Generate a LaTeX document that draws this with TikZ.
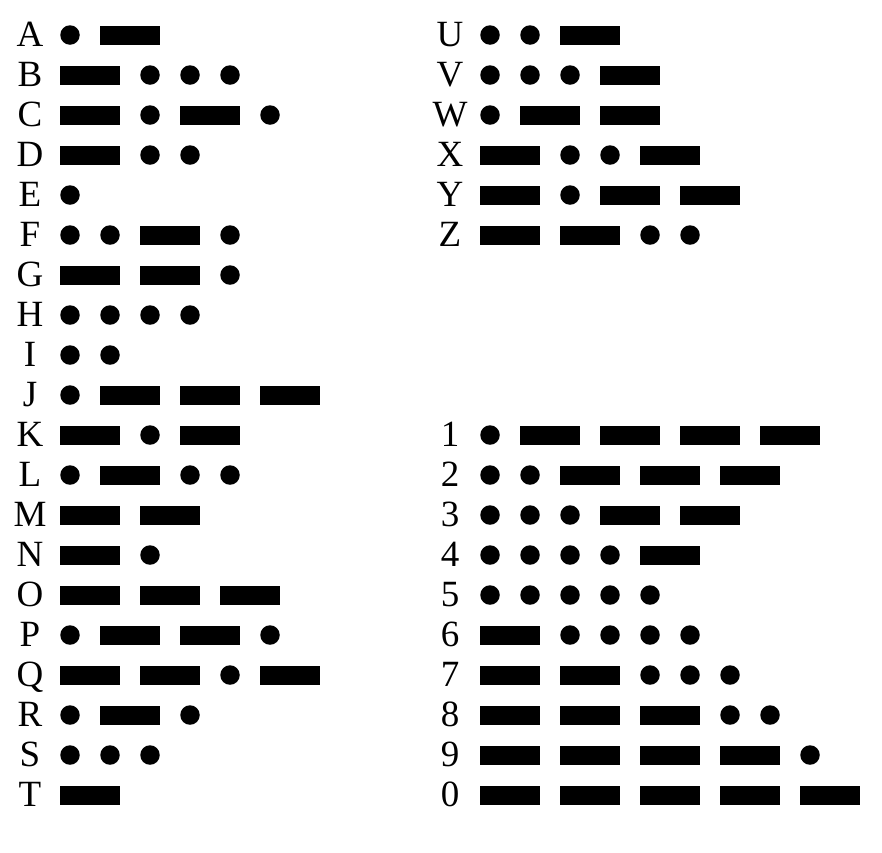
\documentclass[tikz,border=0pt]{standalone}
\usepackage{fontspec}
\setmainfont{Liberation Serif}

% one line of the chart: name, x of the letter, y of the line, code macro (0 = dot, 1 = dash)
\newcommand{\morserow}[4]{%
  \node[letter] (#1) at (#2,#3+11) {#1};
  \pgfmathsetmacro\curx{#2+30}
  \xdef\curx{\curx}
  \foreach \s [count=\i] in #4 {
    \ifnum\s=0
      \node[dotmark] (#1-\i) at (\curx+10,#3) {};
      \pgfmathsetmacro\nx{\curx+40}
    \else
      \node[dashmark] (#1-\i) at (\curx+30,#3) {};
      \pgfmathsetmacro\nx{\curx+80}
    \fi
    \xdef\curx{\nx}
  }
}

\begin{document}
\begin{tikzpicture}[x=1pt, y=-1pt,
    letter/.style={font=\fontsize{37}{37}\selectfont, anchor=base, inner sep=0pt},
    dotmark/.style={circle, fill=black, inner sep=0pt, minimum size=19.5pt},
    dashmark/.style={rectangle, fill=black, inner sep=0pt, minimum width=60pt, minimum height=19pt}
  ]
  \useasboundingbox (0,0) rectangle (882,852);

  % A to T
  \foreach \ch/\code [count=\r from 0] in {A/{0,1}, B/{1,0,0,0}, C/{1,0,1,0}, D/{1,0,0}, E/{0},
      F/{0,0,1,0}, G/{1,1,0}, H/{0,0,0,0}, I/{0,0}, J/{0,1,1,1}, K/{1,0,1}, L/{0,1,0,0},
      M/{1,1}, N/{1,0}, O/{1,1,1}, P/{0,1,1,0}, Q/{1,1,0,1}, R/{0,1,0}, S/{0,0,0}, T/{1}} {
    \pgfmathsetmacro\y{35+40*\r}
    \morserow{\ch}{30}{\y}{\code}
  }

  % U to Z
  \foreach \ch/\code [count=\r from 0] in {U/{0,0,1}, V/{0,0,0,1}, W/{0,1,1}, X/{1,0,0,1},
      Y/{1,0,1,1}, Z/{1,1,0,0}} {
    \pgfmathsetmacro\y{35+40*\r}
    \morserow{\ch}{450}{\y}{\code}
  }

  % digits
  \foreach \ch/\code [count=\r from 10] in {1/{0,1,1,1,1}, 2/{0,0,1,1,1}, 3/{0,0,0,1,1},
      4/{0,0,0,0,1}, 5/{0,0,0,0,0}, 6/{1,0,0,0,0}, 7/{1,1,0,0,0}, 8/{1,1,1,0,0},
      9/{1,1,1,1,0}, 0/{1,1,1,1,1}} {
    \pgfmathsetmacro\y{35+40*\r}
    \morserow{\ch}{450}{\y}{\code}
  }
\end{tikzpicture}
\end{document}
